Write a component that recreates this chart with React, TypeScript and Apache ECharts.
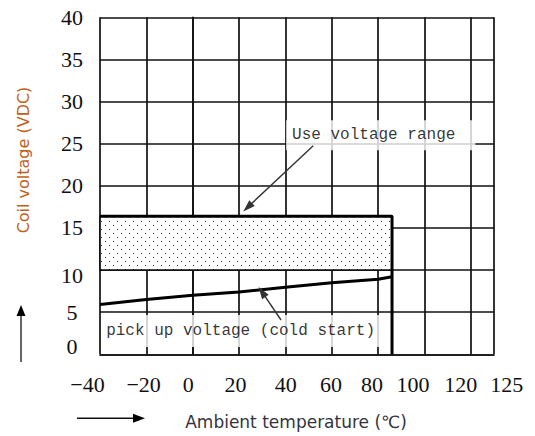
import React, { useEffect, useRef } from 'react';
import * as echarts from 'echarts';

// ---- data ----
const temperatureC = [-40, -20, 0, 20, 40, 60, 80, 86];
const pickupVoltage = [5.9, 6.5, 7.0, 7.4, 7.95, 8.5, 8.9, 9.2];
const useRangeTemp = [-40, 86];
const useRangeVoltage = [10, 16.4];
const xTickValues = [-40, -20, 0, 20, 40, 60, 80, 100, 120, 130];
const xTickLabels = ['−40', '−20', '0', '20', '40', '60', '80', '100', '120', '125'];
const useRangeText = 'Use voltage range';
const pickupText = 'pick up voltage (cold start)';
const useRangeLabelAt = [40.3, 26.0];
const pickupLabelAt = [-39.5, 2.78];
const useRangeArrow = [[52.0, 24.76], [23.7, 17.45]];
const pickupArrow = [[38.1, 4.07], [29.9, 7.4]];

// label nudges (style only)
const xLabelNudge = [-12.5, -2.7, -4.4, -3.6, 0.4, -0.7, -6, -11.6, -10, 12.7];

const SERIF = '"Liberation Serif", "Times New Roman", serif';
const MONO = '"Liberation Mono", "Courier New", monospace';

export default function App() {
  const ref = useRef<HTMLDivElement>(null);
  useEffect(() => {
    if (!ref.current) return;
    const canvas = document.createElement('canvas');
    canvas.width = 8;
    canvas.height = 8;
    const ctx = canvas.getContext('2d')!;
    ctx.fillStyle = '#ffffff';
    ctx.fillRect(0, 0, 8, 8);
    ctx.fillStyle = '#333333';
    ctx.fillRect(1, 1, 1, 1);
    ctx.fillRect(5, 5, 1, 1);

    const chart = echarts.init(ref.current, null, { renderer: 'svg' });

    const xRich: Record<string, any> = {};
    xLabelNudge.forEach((n, i) => {
      xRich['n' + i] = {
        fontFamily: SERIF,
        fontSize: 22,
        color: '#111',
        padding: n < 0 ? [0, -2 * n, 0, 0] : [0, 0, 0, 2 * n],
      };
    });

    const borderData = [
      [useRangeTemp[0], useRangeVoltage[1]],
      [useRangeTemp[1], useRangeVoltage[1]],
      [useRangeTemp[1], 0],
    ];
    const pickupData = temperatureC.map((t, i) => [t, pickupVoltage[i]]);

    chart.setOption({
      animation: false,
      grid: { left: 100, top: 17.3, right: 41, bottom: 81.7, containLabel: false },
      xAxis: {
        type: 'value',
        min: -40,
        max: 130,
        interval: 20,
        axisLine: { show: true, lineStyle: { color: '#111', width: 1.7 } },
        axisTick: { show: false },
        splitLine: { show: true, lineStyle: { color: '#111', width: 1.7 } },
        axisLabel: {
          showMinLabel: true,
          showMaxLabel: true,
          margin: 19,
          fontFamily: SERIF,
          fontSize: 22,
          color: '#111',
          formatter: (v: number) => {
            const i = xTickValues.findIndex((t) => Math.abs(t - v) < 1e-6);
            if (i < 0) return '';
            return '{n' + i + '|' + xTickLabels[i] + '}';
          },
          rich: xRich,
        },
      },
      yAxis: {
        type: 'value',
        min: 0,
        max: 40,
        interval: 5,
        axisLine: { show: true, lineStyle: { color: '#111', width: 1.7 } },
        axisTick: { show: false },
        splitLine: { show: true, lineStyle: { color: '#111', width: 1.7 } },
        axisLabel: {
          showMinLabel: true,
          showMaxLabel: true,
          align: 'center',
          margin: 28,
          fontFamily: SERIF,
          fontSize: 22,
          color: '#111',
          formatter: (v: number) =>
            v === 0 ? '{z|0}' : v === 10 ? '{t|10}' : String(v),
          rich: {
            z: { fontFamily: SERIF, fontSize: 22, color: '#111', padding: [0, 0, 16, 0] },
            t: { fontFamily: SERIF, fontSize: 22, color: '#111', padding: [10, 0, 0, 0] },
          },
        },
      },
      graphic: [
        {
          type: 'text',
          x: 23,
          y: 160,
          rotation: Math.PI / 2,
          style: {
            text: 'Coil voltage (VDC)',
            fill: '#C0611A',
            fontSize: 16,
            fontFamily: '"DejaVu Sans", sans-serif',
            align: 'center',
            verticalAlign: 'middle',
          },
        },
        {
          type: 'text',
          x: 296,
          y: 421.5,
          style: {
            text: 'Ambient temperature (℃)',
            fill: '#333340',
            fontSize: 17,
            fontFamily: '"DejaVu Sans", sans-serif',
            align: 'center',
            verticalAlign: 'middle',
          },
        },
        { type: 'line', shape: { x1: 21, y1: 362, x2: 21, y2: 313 }, style: { stroke: '#555', lineWidth: 1.8 } },
        { type: 'polygon', shape: { points: [[21, 305], [16.5, 316], [25.5, 316]] }, style: { fill: '#000' } },
        { type: 'line', shape: { x1: 77, y1: 418.3, x2: 137, y2: 418.3 }, style: { stroke: '#111', lineWidth: 1.4 } },
        { type: 'polygon', shape: { points: [[145, 418.3], [133, 413.8], [133, 422.8]] }, style: { fill: '#000' } },
      ],
      series: [
        {
          type: 'line',
          name: 'Use voltage range',
          data: borderData,
          symbol: 'none',
          z: 3,
          lineStyle: { color: '#000', width: 3 },
          markArea: {
            silent: true,
            itemStyle: {
              color: { image: canvas, repeat: 'repeat', imageWidth: 8, imageHeight: 8 } as any,
              borderColor: '#111',
              borderWidth: 1.7,
            },
            data: [
              [
                { coord: [useRangeTemp[0], useRangeVoltage[0]] },
                { coord: [useRangeTemp[1], useRangeVoltage[1]] },
              ],
            ],
          },
        },
        {
          type: 'line',
          name: 'pick up voltage',
          data: pickupData,
          symbol: 'none',
          z: 3,
          lineStyle: { color: '#000', width: 3 },
        },
        {
          type: 'scatter',
          silent: true,
          symbolSize: 0,
          z: 3,
          label: {
            show: true,
            position: 'right',
            distance: 0,
            backgroundColor: '#fff',
            fontFamily: MONO,
            fontSize: 16,
            lineHeight: 16,
            color: '#000',
          },
          data: [
            { value: useRangeLabelAt, label: { formatter: useRangeText, padding: [7, 20, 7, 6] } },
            { value: pickupLabelAt, label: { formatter: pickupText, padding: [8, 10, 8, 5] } },
          ],
          markLine: {
            silent: true,
            symbol: ['none', 'triangle'],
            symbolSize: [8, 12],
            label: { show: false },
            lineStyle: { color: '#333', width: 1.4, type: 'solid' },
            data: [
              [{ coord: useRangeArrow[0] }, { coord: useRangeArrow[1] }],
              [{ coord: pickupArrow[0] }, { coord: pickupArrow[1] }],
            ],
          },
        },
      ],
    });
    return () => chart.dispose();
  }, []);
  return (
    <div
      ref={ref}
      style={{ position: 'fixed', left: 0, top: 0, width: 535, height: 436, background: '#fff' }}
    />
  );
}
